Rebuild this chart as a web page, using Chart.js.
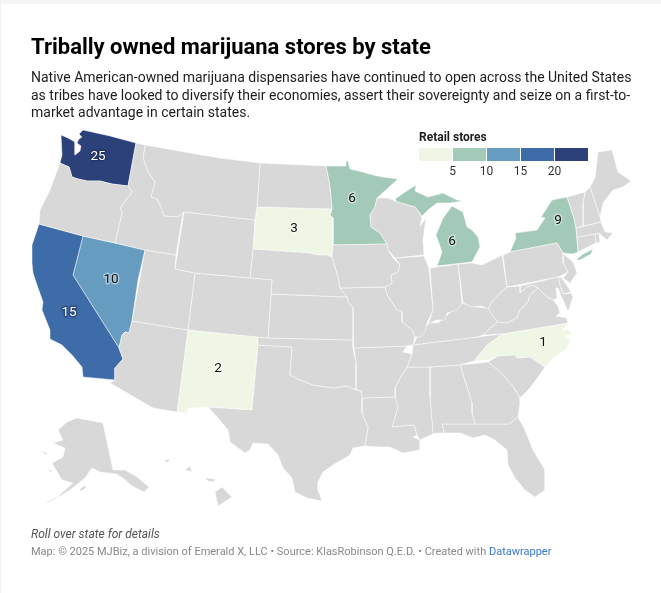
<!DOCTYPE html>
<html>
<head>
<meta charset="utf-8">
<title>Tribally owned marijuana stores by state</title>
<script src="https://cdn.jsdelivr.net/npm/chart.js@4"></script>
<style>
  html, body { margin: 0; padding: 0; background: #fff; }
  body { width: 661px; height: 593px; position: relative; overflow: hidden; font-family: Roboto, sans-serif; }
  #edgeTop { position: absolute; left: 0; top: 0; width: 661px; height: 4px; background: #f5f5f5; }
  #edgeLeft { position: absolute; left: 0; top: 0; width: 1px; height: 593px; background: #f2f2f2; }
  #mapWrap { position: absolute; left: 0; top: 0; width: 661px; height: 593px; }
  h1 { position: absolute; left: 31px; top: 33px; margin: 0; font-size: 22px; line-height: 28px; font-weight: 700; color: #000; white-space: nowrap; }
  #intro { position: absolute; left: 31px; top: 69px; font-size: 14px; line-height: 17.6px; color: #1d1d1d; white-space: nowrap; }
  #legTitle { position: absolute; left: 419px; top: 130px; font-size: 12px; line-height: 14px; font-weight: 700; color: #1d1d1d; }
  .swatch { position: absolute; top: 148px; height: 13px; }
  .tick { position: absolute; top: 164px; width: 30px; text-align: center; font-size: 12px; line-height: 15px; color: #333; }
  #note { position: absolute; left: 31px; top: 527px; font-size: 12px; line-height: 15px; font-style: italic; color: #555; }
  #source { position: absolute; left: 31px; top: 545px; font-size: 11px; line-height: 14px; color: #888; white-space: nowrap; }
  #source a { color: #3a78c9; text-decoration: none; }
</style>
</head>
<body>
<div id="edgeTop"></div>
<div id="edgeLeft"></div>
<div id="mapWrap"><canvas id="usMap" width="661" height="593"></canvas></div>
<h1>Tribally owned marijuana stores by state</h1>
<div id="intro">Native American-owned marijuana dispensaries have continued to open across the United States<br>as tribes have looked to diversify their economies, assert their sovereignty and seize on a first-to-<br>market advantage in certain states.</div>
<div id="legTitle">Retail stores</div>
<div id="legend"></div>
<div id="note">Roll over state for details</div>
<div id="source">Map: © 2025 MJBiz, a division of Emerald X, LLC • Source: KlasRobinson Q.E.D. • Created with <a href="#">Datawrapper</a></div>

<script>
// store counts, only the states that have any
var storeStates = ['WA', 'CA', 'NV', 'NY', 'MN', 'MI', 'SD', 'NM', 'NC'];
var storeCounts = [25, 15, 10, 9, 6, 6, 3, 2, 1];
var labelX = [98, 69, 111, 558, 352, 452, 294, 218, 543];
var labelY = [157, 313, 280, 221, 199, 242, 229, 369, 343];

var legendTicks = [5, 10, 15, 20];
var legendColors = ['#f0f6e6', '#a3cab8', '#659cc0', '#3e6ca8', '#2c4079'];
var noDataColor = '#d8d8d8';

// state outlines in map units
var WA = [[83,130],[110,136],[136,143],[128,186],[112,184],[100,181],[87,181],[78,179],[72,177],[70,170],[69,167],[60,163],[62,155],[61,135],[68,138],[75,142],[75,155],[80,151],[81,146],[77,143],[79,139],[82,137],[79,134]];
var OR = [[60,163],[69,167],[70,170],[72,177],[78,179],[87,181],[100,181],[112,184],[128,186],[132,192],[120,208],[122,213],[115,243],[83,236],[39,224],[40,210],[50,190]];
var CA = [[39,224],[83,236],[73,275],[119,348],[123,359],[115,368],[115,380],[83,377],[82,367],[72,355],[62,345],[50,339],[50,330],[42,310],[43,302],[37,285],[33,273],[32,263],[32,245]];
var NV = [[83,236],[115,243],[145,250],[138,280],[132,321],[129,333],[125,332],[122,335],[119,348],[73,275]];
var ID = [[136,143],[145,145],[143,158],[148,172],[155,182],[151,197],[157,199],[160,205],[164,216],[178,217],[183,213],[176,255],[145,250],[115,243],[122,213],[120,208],[132,192],[128,186]];
var MT = [[145,145],[190,153],[220,158],[260,163],[257,207],[255,220],[184,212],[178,217],[164,216],[160,205],[157,199],[151,197],[155,182],[148,172],[143,158]];
var WY = [[184,212],[255,220],[253,249],[250,278],[195,273],[175,269]];
var UT = [[145,250],[176,255],[175,269],[195,273],[188,330],[132,321]];
var AZ = [[132,321],[188,330],[177,412],[153,408],[110,383],[115,380],[115,368],[123,359],[119,348],[122,335],[125,332],[129,333]];
var CO = [[195,273],[250,278],[272,280],[271,294],[268,338],[258,337],[188,330]];
var NM = [[188,330],[258,337],[258,345],[252,410],[208,407],[188,408],[187,413],[177,412]];
var ND = [[260,163],[326,166],[330,187],[332,209],[257,207]];
var SD = [[257,207],[332,209],[330,215],[333,218],[333,245],[332,257],[327,255],[318,255],[310,253],[253,249]];
var NE = [[253,249],[310,253],[318,255],[327,255],[332,257],[335,267],[338,278],[340,288],[347,297],[271,294],[272,280],[250,278]];
var KS = [[271,294],[347,297],[348,302],[353,308],[353,340],[268,338]];
var OK = [[258,337],[268,338],[353,340],[353,348],[356,363],[356,390],[347,386],[333,388],[313,385],[298,379],[290,375],[292,347],[258,345]];
var TX = [[258,345],[292,347],[290,375],[298,379],[313,385],[333,388],[347,386],[356,390],[361,391],[362,398],[362,413],[368,428],[365,446],[353,448],[350,455],[333,465],[323,472],[318,482],[318,490],[322,501],[307,498],[295,492],[292,478],[283,468],[278,455],[268,444],[253,443],[250,450],[245,453],[230,442],[228,430],[218,418],[208,407],[252,410]];
var MN = [[326,166],[346,166],[346,161],[348,161],[350,169],[363,172],[373,175],[383,177],[398,179],[388,188],[377,198],[375,207],[370,215],[371,227],[380,233],[387,244],[333,245],[333,218],[330,215],[332,209],[330,187]];
var IA = [[333,245],[387,244],[388,250],[393,258],[400,265],[398,272],[391,275],[392,283],[385,287],[340,288],[338,278],[335,267],[332,257]];
var MO = [[340,288],[385,287],[387,295],[397,310],[402,312],[402,322],[412,330],[415,337],[413,345],[407,346],[354,348],[353,340],[353,308],[348,302],[347,297]];
var AR = [[354,348],[407,346],[403,352],[412,354],[407,367],[400,378],[395,388],[395,397],[362,398],[361,391],[356,390],[356,363]];
var LA = [[362,398],[395,397],[398,407],[392,427],[414,425],[417,435],[413,437],[420,440],[420,450],[403,453],[390,447],[380,447],[365,446],[368,428],[362,413]];
var WI = [[377,198],[388,198],[397,202],[415,207],[422,217],[420,226],[426,218],[423,240],[424,255],[395,258],[388,250],[387,244],[380,233],[371,227],[370,215],[375,207]];
var IL = [[395,258],[424,256],[429,268],[433,310],[427,323],[425,332],[420,337],[415,337],[412,330],[402,322],[402,312],[397,310],[387,295],[385,287],[392,283],[391,275],[398,272],[400,265]];
var IN = [[430,268],[458,264],[462,303],[457,310],[447,313],[445,320],[436,320],[428,325],[433,310]];
var OH = [[458,264],[472,263],[482,265],[502,255],[504,268],[507,287],[500,293],[493,300],[488,309],[482,306],[472,307],[463,303]];
var KY = [[417,337],[423,333],[428,323],[438,323],[445,317],[455,308],[462,303],[475,307],[488,308],[497,322],[483,335],[477,337],[428,343],[413,345]];
var TN = [[413,345],[428,343],[477,337],[502,334],[487,345],[474,361],[460,365],[430,367],[407,367],[412,354]];
var MS = [[407,367],[430,367],[430,397],[433,434],[420,440],[417,435],[414,425],[392,427],[398,407],[395,397],[395,388],[400,378]];
var AL = [[430,367],[460,365],[472,403],[472,413],[475,424],[442,424],[444,433],[437,433],[433,434],[430,397]];
var GA = [[460,365],[488,362],[500,372],[512,385],[520,398],[520,403],[518,417],[509,424],[475,424],[472,413],[472,403]];
var FL = [[442,424],[475,424],[509,424],[518,417],[525,430],[533,450],[545,470],[545,490],[535,497],[525,490],[515,478],[508,465],[507,450],[495,440],[485,435],[473,438],[460,433],[444,433]];
var SC = [[488,362],[498,356],[515,355],[517,358],[530,357],[545,367],[538,377],[530,388],[520,398],[512,385],[500,372]];
var NC = [[568,323],[502,334],[487,345],[474,361],[488,360],[498,356],[515,355],[517,358],[530,357],[545,367],[553,358],[567,348],[570,340],[564,336],[572,335],[568,329],[563,331],[566,325]];
var VA = [[483,335],[497,322],[507,323],[517,318],[520,310],[528,302],[530,295],[538,288],[547,297],[553,300],[558,306],[560,313],[556,316],[567,318],[568,323],[502,334]];
var WV = [[507,287],[520,286],[520,293],[527,287],[532,285],[538,288],[530,295],[528,302],[520,310],[517,318],[507,323],[497,322],[488,309],[493,300],[500,293]];
var MD = [[520,286],[558,277],[560,285],[563,294],[571,293],[573,297],[568,312],[565,304],[561,296],[558,288],[556,288],[557,298],[553,300],[547,297],[538,288],[532,285],[527,287],[520,293]];
var DE = [[558,277],[562,278],[571,292],[563,294],[560,285]];
var PA = [[503,255],[510,252],[557,243],[563,253],[563,263],[568,272],[558,277],[507,287]];
var NJ = [[563,253],[573,262],[577,273],[570,283],[563,278],[568,272],[563,263]];
var NY = [[567,197],[574,218],[576,228],[578,252],[573,254],[563,253],[557,243],[510,252],[516,238],[515,233],[537,230],[545,218],[541,217],[552,200]];
var NY_LI = [[576,260],[583,254],[593,249],[591,254],[580,260]];
var MI = [[452,206],[463,212],[467,227],[472,230],[478,237],[480,247],[472,262],[437,266],[442,252],[436,235],[443,218]];
var MI_UP = [[395,199],[405,192],[416,185],[415,191],[428,197],[443,193],[457,200],[463,201],[450,203],[437,203],[428,210],[422,216],[415,207],[397,202]];
var VT = [[567,197],[585,192],[583,203],[583,226],[576,228],[574,218]];
var NH = [[585,192],[590,187],[600,217],[601,222],[583,226],[583,203]];
var ME = [[590,187],[595,178],[598,152],[612,150],[618,172],[631,181],[623,187],[613,190],[603,203],[600,217]];
var MA = [[576,228],[601,222],[605,232],[613,233],[607,240],[599,233],[595,234],[577,237]];
var CT = [[577,237],[595,234],[596,243],[578,252]];
var RI = [[595,234],[599,233],[600,242],[596,243]];
var AK = [[77,418],[103,423],[113,470],[125,470],[137,477],[149,487],[144,492],[132,486],[124,479],[117,474],[100,472],[92,468],[85,478],[70,490],[53,500],[37,506],[57,497],[73,483],[62,480],[52,463],[63,457],[65,448],[53,443],[63,440],[58,430],[67,422]];
var AK_KODIAK = [[79,490],[85,485],[86,488],[81,491]];
var AK_STL = [[41,451],[47,453],[46,455]];
var AK_NUN = [[48,470],[52,470],[52,473]];
var HI_BIG = [[215,492],[222,487],[232,497],[218,506]];
var HI_MAUI = [[205,478],[215,479],[214,482],[208,481]];
var HI_OAHU = [[185,470],[190,466],[192,472]];
var HI_KAUAI = [[164,460],[170,459],[168,463]];

var stateCodes = ['OR','ID','MT','WY','UT','AZ','CO','ND','NE','KS','OK','TX','IA','MO','AR','LA','WI','IL','IN','OH','KY','TN','MS','AL','GA','FL','SC','VA','WV','MD','DE','PA','NJ','VT','NH','ME','MA','CT','RI','AK','AK','AK','AK','HI','HI','HI','HI','WA','CA','NV','NM','SD','MN','MI','MI','NY','NY','NC'];
var stateShapes = [OR,ID,MT,WY,UT,AZ,CO,ND,NE,KS,OK,TX,IA,MO,AR,LA,WI,IL,IN,OH,KY,TN,MS,AL,GA,FL,SC,VA,WV,MD,DE,PA,NJ,VT,NH,ME,MA,CT,RI,AK,AK_KODIAK,AK_STL,AK_NUN,HI_BIG,HI_MAUI,HI_OAHU,HI_KAUAI,WA,CA,NV,NM,SD,MN,MI,MI_UP,NY,NY_LI,NC];

function binColor(n) {
  for (var i = 0; i < legendTicks.length; i++) {
    if (n < legendTicks[i]) return legendColors[i];
  }
  return legendColors[legendColors.length - 1];
}

function stateColor(code) {
  var i = storeStates.indexOf(code);
  return i < 0 ? noDataColor : binColor(storeCounts[i]);
}

var datasets = stateShapes.map(function(shape, i) {
  var pts = shape.concat([shape[0]]).map(function(p) { return { x: p[0], y: p[1] }; });
  return {
    label: stateCodes[i],
    data: pts,
    showLine: true,
    fill: 'shape',
    tension: 0,
    backgroundColor: stateColor(stateCodes[i]),
    borderColor: 'rgba(255,255,255,.7)',
    borderWidth: 0.7,
    pointRadius: 0,
    pointHoverRadius: 0
  };
});

// numbers on the filled states, halo like the original
var stateLabels = {
  id: 'stateLabels',
  afterDatasetsDraw: function(chart) {
    var ctx = chart.ctx;
    ctx.save();
    ctx.font = '13.5px Roboto, sans-serif';
    ctx.textAlign = 'center';
    ctx.textBaseline = 'middle';
    ctx.lineJoin = 'round';
    storeStates.forEach(function(code, i) {
      var px = chart.scales.x.getPixelForValue(labelX[i]);
      var py = chart.scales.y.getPixelForValue(labelY[i]);
      var dark = storeCounts[i] >= 15;
      ctx.lineWidth = 3;
      ctx.strokeStyle = dark ? 'rgba(30,45,90,.55)' : 'rgba(255,255,255,.45)';
      ctx.fillStyle = dark ? '#fff' : '#111';
      ctx.strokeText(String(storeCounts[i]), px, py);
      ctx.fillText(String(storeCounts[i]), px, py);
    });
    ctx.restore();
  }
};

new Chart(document.getElementById('usMap'), {
  type: 'scatter',
  data: { datasets: datasets },
  plugins: [stateLabels],
  options: {
    responsive: false,
    animation: false,
    events: [],
    layout: { padding: 0 },
    plugins: { legend: { display: false }, tooltip: { enabled: false }, title: { display: false } },
    scales: {
      x: { type: 'linear', min: 0, max: 661, display: false },
      y: { type: 'linear', min: 0, max: 593, reverse: true, display: false }
    }
  }
});

// legend strip
var leg = '';
legendColors.forEach(function(c, i) {
  leg += '<div class="swatch" style="left:' + (419 + i * 34) + 'px;width:33px;background:' + c + '"></div>';
});
legendTicks.forEach(function(t, i) {
  leg += '<div class="tick" style="left:' + (437.5 + i * 34) + 'px">' + t + '</div>';
});
document.getElementById('legend').innerHTML = leg;
</script>
</body>
</html>
